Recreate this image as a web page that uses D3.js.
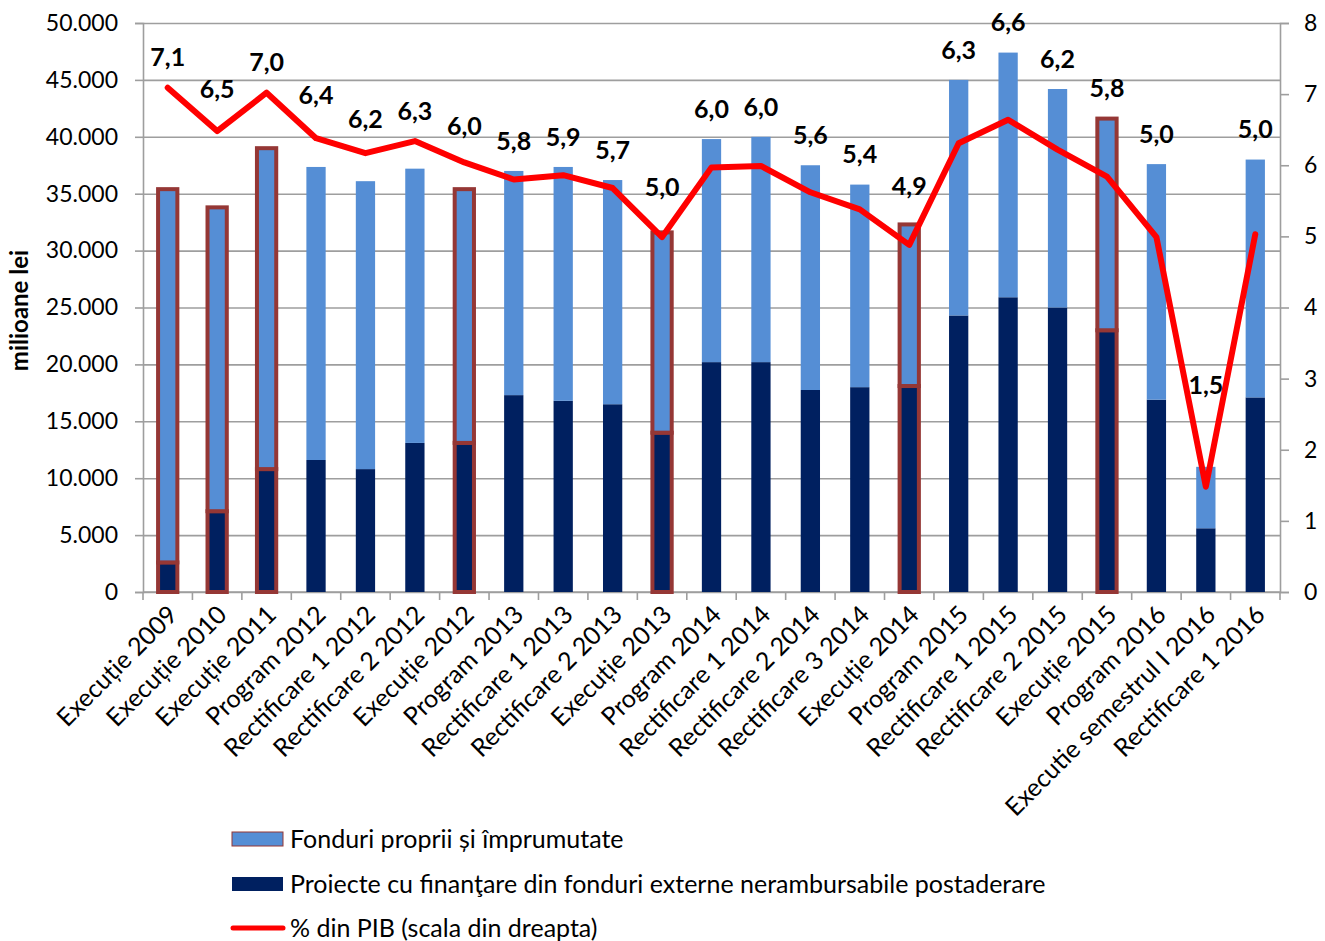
<!DOCTYPE html>
<html>
<head>
<meta charset="utf-8">
<script src="https://cdn.jsdelivr.net/npm/d3@7"></script>
<style>
  html, body { margin: 0; padding: 0; background: #fff; }
  svg { display: block; font-family: Lato, "Open Sans", sans-serif; }
</style>
</head>
<body>
<svg id="chart" width="1325" height="941"></svg>
<script>
// ---- DATA ----
const categories = [
  "Execuție 2009", "Execuție 2010", "Execuție 2011", "Program 2012", "Rectificare 1 2012",
  "Rectificare 2 2012", "Execuție 2012", "Program 2013", "Rectificare 1 2013", "Rectificare 2 2013",
  "Execuție 2013", "Program 2014", "Rectificare 1 2014", "Rectificare 2 2014", "Rectificare 3 2014",
  "Execuție 2014", "Program 2015", "Rectificare 1 2015", "Rectificare 2 2015", "Execuție 2015",
  "Program 2016", "Executie semestrul I 2016", "Rectificare 1 2016"
];
// Proiecte cu finanţare din fonduri externe nerambursabile postaderare (milioane lei)
const proiecteExterne = [
  2600, 7100, 10800, 11600, 10800, 13100, 13100, 17300, 16800, 16500,
  14000, 20200, 20200, 17750, 18000, 18100, 24300, 25900, 25000, 23000,
  16900, 5600, 17100
];
// Fonduri proprii și împrumutate (milioane lei)
const fonduriProprii = [
  32800, 26700, 28200, 25750, 25300, 24100, 22300, 19700, 20550, 19700,
  17600, 19600, 19800, 19750, 17800, 14200, 20700, 21500, 19200, 18600,
  20700, 5400, 20900
];
// % din PIB (scala din dreapta)
const pctPIB = [
  7.09, 6.48, 7.02, 6.38, 6.17, 6.34, 6.04, 5.80, 5.86, 5.68,
  4.99, 5.97, 5.99, 5.62, 5.38, 4.88, 6.31, 6.64, 6.22, 5.84,
  4.99, 1.48, 5.03
];
const leftTicks = [0, 5000, 10000, 15000, 20000, 25000, 30000, 35000, 40000, 45000, 50000];
const rightTicks = [0, 1, 2, 3, 4, 5, 6, 7, 8];
const legendLabels = [
  "Fonduri proprii și împrumutate",
  "Proiecte cu finanţare din fonduri externe nerambursabile postaderare",
  "% din PIB (scala din dreapta)"
];

// ---- LAYOUT ----
const svg = d3.select("#chart");
const plot = { left: 143, right: 1280, top: 23, bottom: 592 };
const COL_LIGHT = "#558ED5", COL_DARK = "#002060", COL_OUT = "#953735", COL_RED = "#FF0000";
const GRID = "#9E9E9E";

const x = d3.scaleBand().domain(categories).range([plot.left, plot.right]).paddingInner(0).paddingOuter(0);
const y = d3.scaleLinear().domain([0, 50000]).range([plot.bottom, plot.top]);
const yR = d3.scaleLinear().domain([0, 8]).range([plot.bottom, plot.top]);

const ro = d3.formatLocale({ decimal: ",", thousands: ".", grouping: [3], currency: ["", ""] });
const fmtThousands = ro.format(",d");
const fmtPct = ro.format(".1f");

// gridlines
svg.append("g")
  .attr("transform", `translate(${plot.left},0)`)
  .call(d3.axisLeft(y).tickValues(leftTicks).tickSize(-(plot.right - plot.left)).tickFormat(""))
  .call(g => g.select(".domain").remove())
  .call(g => g.selectAll("line").attr("stroke", GRID).attr("stroke-width", 1.6));

// left axis
const gl = svg.append("g")
  .attr("transform", `translate(${plot.left},0)`)
  .call(d3.axisLeft(y).tickValues(leftTicks).tickSize(8).tickPadding(17).tickFormat(fmtThousands));
gl.select(".domain").attr("stroke", GRID).attr("stroke-width", 1.6);
gl.selectAll("line").attr("stroke", GRID).attr("stroke-width", 1.6);
gl.selectAll("text").attr("font-size", 23).attr("fill", "#000").attr("font-family", "Lato, sans-serif");

// right axis
const gr = svg.append("g")
  .attr("transform", `translate(${plot.right},0)`)
  .call(d3.axisRight(yR).tickValues(rightTicks).tickSize(9).tickPadding(15).tickFormat(d3.format("d")));
gr.select(".domain").attr("stroke", GRID).attr("stroke-width", 1.6);
gr.selectAll("line").attr("stroke", GRID).attr("stroke-width", 1.6);
gr.selectAll("text").attr("font-size", 23).attr("fill", "#000").attr("font-family", "Lato, sans-serif");

// x axis (ticks at category boundaries)
const gx = svg.append("g").attr("transform", `translate(0,${plot.bottom})`);
gx.append("line").attr("x1", plot.left).attr("x2", plot.right).attr("stroke", GRID).attr("stroke-width", 1.6);
const bounds = categories.map(c => x(c)).concat([plot.right]);
gx.selectAll("line.tk").data(bounds).join("line").attr("class", "tk")
  .attr("x1", d => d).attr("x2", d => d).attr("y1", 0).attr("y2", 8)
  .attr("stroke", GRID).attr("stroke-width", 1.6);
gx.selectAll("text").data(categories).join("text")
  .attr("transform", d => `translate(${x(d) + x.bandwidth() / 2 + 5},${18}) rotate(-45)`)
  .attr("text-anchor", "end")
  .attr("dy", "0.35em")
  .attr("font-size", 25)
  .attr("fill", "#000")
  .text(d => d);

// axis title
svg.append("text")
  .attr("transform", `translate(28,${(plot.top + plot.bottom) / 2 + 3}) rotate(-90)`)
  .attr("text-anchor", "middle")
  .attr("font-size", 24)
  .attr("font-weight", "bold")
  .attr("fill", "#000")
  .text("milioane lei");

// bars
const bw = x.bandwidth() * 0.39;
const isExec = c => /^Execuție \d{4}$/.test(c);
const rows = categories.map((c, i) => ({ c, dark: proiecteExterne[i], light: fonduriProprii[i], ex: isExec(c) }));
const gb = svg.append("g");
rows.forEach(r => {
  const cx = x(r.c) + x.bandwidth() / 2;
  const segs = [
    { y0: 0, y1: r.dark, fill: COL_DARK },
    { y0: r.dark, y1: r.dark + r.light, fill: COL_LIGHT }
  ];
  segs.forEach(s => {
    gb.append("rect")
      .attr("x", cx - bw / 2)
      .attr("width", bw)
      .attr("y", y(s.y1))
      .attr("height", y(s.y0) - y(s.y1))
      .attr("fill", s.fill)
      .attr("stroke", r.ex ? COL_OUT : "none")
      .attr("stroke-width", r.ex ? 4 : 0);
  });
});

// line
const pts = categories.map((c, i) => [x(c) + x.bandwidth() / 2, yR(pctPIB[i])]);
svg.append("path")
  .attr("d", d3.line()(pts))
  .attr("fill", "none")
  .attr("stroke", COL_RED)
  .attr("stroke-width", 6)
  .attr("stroke-linejoin", "round")
  .attr("stroke-linecap", "round");

// data labels: above the highest obstacle (line / bar) near the point
const half = 14;
function lineYAt(px) {
  for (let k = 0; k < pts.length - 1; k++) {
    const [x0, y0] = pts[k], [x1, y1] = pts[k + 1];
    if (px >= x0 && px <= x1) return y0 + (y1 - y0) * (px - x0) / (x1 - x0);
  }
  return Infinity;
}
svg.append("g").selectAll("text").data(categories).join("text")
  .attr("x", (c, i) => pts[i][0])
  .attr("y", (c, i) => {
    const cand = [pts[i][1], y(proiecteExterne[i] + fonduriProprii[i]), lineYAt(pts[i][0] - half), lineYAt(pts[i][0] + half)];
    return d3.min(cand) - 30;
  })
  .attr("dy", "0.35em")
  .attr("text-anchor", "middle")
  .attr("font-size", 25)
  .attr("font-weight", "bold")
  .attr("fill", "#000")
  .text((c, i) => fmtPct(pctPIB[i]));

// legend
const lg = svg.append("g");
const ly = [839, 884, 928];
lg.append("rect").attr("x", 232).attr("y", ly[0] - 7).attr("width", 51).attr("height", 14)
  .attr("fill", COL_LIGHT).attr("stroke", COL_OUT).attr("stroke-width", 1);
lg.append("rect").attr("x", 232).attr("y", ly[1] - 7).attr("width", 51).attr("height", 14)
  .attr("fill", COL_DARK);
lg.append("line").attr("x1", 233).attr("x2", 283).attr("y1", ly[2]).attr("y2", ly[2])
  .attr("stroke", COL_RED).attr("stroke-width", 5).attr("stroke-linecap", "round");
lg.selectAll("text").data(legendLabels).join("text")
  .attr("x", 290).attr("y", (d, i) => ly[i]).attr("dy", "0.35em")
  .attr("font-size", 25).attr("fill", "#000")
  .text(d => d);
</script>
</body>
</html>
